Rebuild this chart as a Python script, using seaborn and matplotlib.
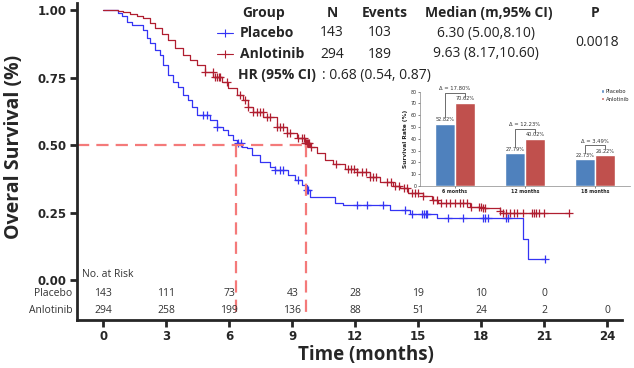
import numpy as np
import pandas as pd
import matplotlib
matplotlib.use("Agg")
import matplotlib.pyplot as plt
from matplotlib.lines import Line2D
import seaborn as sns

# Kaplan-Meier curves (time in months, survival)
placebo_t = [0, 0.71, 0.87, 1.11, 1.35, 1.9, 2.07, 2.22, 2.46, 2.7, 2.86, 3.1, 3.33, 3.57,
             3.81, 4.05, 4.2, 4.45, 5.08, 5.4, 5.71, 5.95, 6.19, 6.35, 6.59, 6.83, 7.07, 7.46,
             7.94, 8.18, 8.81, 9.13, 9.45, 9.69, 9.84, 11.03, 11.43, 13.65, 14.6, 15.88, 20.0,
             20.24, 21.03]
placebo_s = [1.0, 0.99, 0.978, 0.957, 0.944, 0.926, 0.895, 0.877, 0.852, 0.833, 0.796, 0.759,
             0.735, 0.716, 0.685, 0.667, 0.642, 0.611, 0.593, 0.568, 0.556, 0.537, 0.519, 0.506,
             0.494, 0.488, 0.463, 0.438, 0.42, 0.407, 0.389, 0.37, 0.352, 0.333, 0.309, 0.284,
             0.278, 0.259, 0.244, 0.228, 0.151, 0.078, 0.078]
anlotinib_t = [0, 0.71, 0.95, 1.27, 1.59, 1.9, 2.22, 2.46, 2.78, 3.1, 3.41, 3.81, 4.13, 4.45,
               4.84, 5.24, 5.64, 5.95, 6.35, 6.67, 6.9, 7.14, 7.62, 8.26, 8.73, 9.21, 9.6, 9.84,
               10.16, 10.56, 10.95, 11.5, 12.07, 12.7, 13.17, 13.81, 14.13, 14.52, 15.24, 15.64,
               15.95, 17.46, 18.1, 18.9, 19.05, 22.2]
anlotinib_s = [1.0, 0.997, 0.994, 0.985, 0.978, 0.969, 0.953, 0.932, 0.913, 0.889, 0.858, 0.833,
               0.815, 0.796, 0.772, 0.753, 0.735, 0.71, 0.685, 0.667, 0.642, 0.623, 0.605, 0.568,
               0.543, 0.525, 0.506, 0.494, 0.469, 0.444, 0.43, 0.41, 0.401, 0.383, 0.364, 0.348,
               0.34, 0.321, 0.311, 0.296, 0.286, 0.271, 0.265, 0.257, 0.249, 0.249]

# censored observations
placebo_cens = [4.76, 4.92, 5.4, 6.4, 6.55, 8.2, 8.4, 8.55, 9.27, 9.69, 9.75, 12.07, 12.54,
                13.33, 14.37, 14.7, 15.16, 15.25, 15.35, 15.4, 16.43, 17.14, 18.1, 18.2, 18.3,
                19.2, 19.29, 21.03]
anlotinib_cens = [4.84, 5.2, 5.3, 5.4, 5.5, 5.55, 5.9, 6.5, 6.75, 6.9, 7.14, 7.3, 7.45, 7.6, 7.8,
                  7.94, 8.26, 8.4, 8.55, 8.73, 8.9, 9.25, 9.45, 9.55, 9.6, 9.65, 9.7, 9.75, 9.8,
                  9.9, 11.1, 11.65, 11.8, 11.95, 12.07, 12.3, 12.5, 12.7, 12.85, 13.0, 13.5, 13.7,
                  13.9, 14.1, 14.3, 14.45, 14.7, 14.85, 15.0, 15.24, 15.7, 15.9, 16.1, 16.3, 16.5,
                  16.75, 17.0, 17.15, 17.3, 17.5, 17.9, 18.0, 18.1, 18.2, 18.9, 19.05, 19.2, 19.35,
                  19.55, 19.7, 20.0, 20.4, 20.5, 20.6, 20.75, 21.0, 22.2]

medians = [6.30, 9.63]

risk_times = [0, 3, 6, 9, 12, 15, 18, 21, 24]
risk_placebo = [143, 111, 73, 43, 28, 19, 10, 0, None]
risk_anlotinib = [294, 258, 199, 136, 88, 51, 24, 2, 0]

# inset bar chart
bar_months = ['6 months', '12 months', '18 months']
bar_placebo = [52.82, 27.79, 22.73]
bar_anlotinib = [70.62, 40.02, 26.22]

BLUE = '#3434f4'
RED = '#b01e30'
MED = '#f47a7a'

sns.set_style("ticks")
plt.rcParams['font.family'] = ['DejaVu Sans']

W, H = 634, 368
fig = plt.figure(figsize=(W / 100, H / 100), dpi=100)


def px(x, y):
    return x / W, 1 - y / H


ax = fig.add_axes([77.3 / W, 1 - 320 / H, (621.7 - 77.3) / W, (320 - 3.3) / H])


def surv_at(times, surv, t):
    idx = np.searchsorted(times, t, side='right') - 1
    return np.array(surv)[idx]


for t, s, cens, col in [(placebo_t, placebo_s, placebo_cens, BLUE),
                         (anlotinib_t, anlotinib_s, anlotinib_cens, RED)]:
    sns.lineplot(x=t, y=s, drawstyle='steps-post', estimator=None, sort=False,
                 color=col, lw=0.9, ax=ax)
    ax.plot(cens, surv_at(t, s, cens), linestyle='none', marker='+', color=col,
            markersize=6, mew=0.9)

# median lines
ax.plot([-1.24, medians[1]], [0.5, 0.5], color=MED, lw=1.6, ls=(0, (5.5, 3.2)))
for m in medians:
    ax.plot([m, m], [0.5, -0.148], color=MED, lw=1.6, ls=(0, (5.5, 3.2)))

ax.set_xlim(-1.24, 24.69)
ax.set_ylim(-0.148, 1.025)
ax.set_xticks(risk_times)
ax.set_yticks([0, 0.25, 0.5, 0.75, 1.0])
ax.set_yticklabels(['0.00', '0.25', '0.50', '0.75', '1.00'])
for lab in ax.get_xticklabels() + ax.get_yticklabels():
    lab.set_fontweight('bold')
    lab.set_fontsize(8.5)
ax.tick_params(axis='both', length=5, width=2, pad=3)
ax.tick_params(axis='x', pad=2.5)
for sp in ['top', 'right']:
    ax.spines[sp].set_visible(False)
for sp in ['left', 'bottom']:
    ax.spines[sp].set_linewidth(2)

ax.set_xlabel('Time (months)', fontsize=13.5, fontweight='bold', family='Open Sans')
ax.xaxis.set_label_coords(0.53, -0.079)
ax.set_ylabel('Overal Survival (%)', fontsize=14, fontweight='bold', family='Open Sans')
ax.yaxis.set_label_coords(-0.097, 0.546)

# number at risk table
ax.text(-1.02, 0.022, 'No. at Risk', fontsize=7.5, va='center', ha='left', family='Open Sans',
        color='#333333')
for lab, row, yv in [('Placebo', risk_placebo, -0.049), ('Anlotinib', risk_anlotinib, -0.111)]:
    ax.text(-1.46, yv, lab, fontsize=7.5, va='center', ha='right', family='Open Sans',
            color='#333333', clip_on=False)
    for t, n in zip(risk_times, row):
        if n is not None:
            ax.text(t, yv, str(n), fontsize=7.5, va='center', ha='center', family='Open Sans',
                    color='#333333')

# legend table
hdr = dict(fontsize=10, fontweight='bold', family='Open Sans', va='center')
txt = dict(fontsize=10, family='Open Sans', va='center', color='#222222')
fig.text(*px(264, 12.7), 'Group', ha='center', **hdr)
fig.text(*px(332, 12.7), 'N', ha='center', **hdr)
fig.text(*px(385, 12.7), 'Events', ha='center', **hdr)
fig.text(*px(489, 12.7), 'Median (m,95% CI)', ha='center', **hdr)
fig.text(*px(595, 12.7), 'P', ha='center', **hdr)
rows = [('Placebo', 143, 103, '6.30 (5.00,8.10)', 33, BLUE),
        ('Anlotinib', 294, 189, '9.63 (8.17,10.60)', 54, RED)]
for name, n, ev, med, yy, col in rows:
    fig.add_artist(Line2D([px(217, 0)[0], px(225, 0)[0], px(233, 0)[0]],
                          [px(0, yy)[1]] * 3, transform=fig.transFigure, color=col, lw=0.8,
                          marker='+', markevery=[1], markersize=6, mew=0.8))
    fig.text(*px(240, yy), name, ha='left', **hdr)
    fig.text(*px(332, yy), str(n), ha='center', **txt)
    fig.text(*px(380, yy), str(ev), ha='center', **txt)
    fig.text(*px(486, yy), med, ha='center', **txt)
fig.text(*px(597, 42), '0.0018', ha='center', **txt)
fig.text(*px(238, 75), 'HR (95% CI)', ha='left', **hdr)
fig.text(*px(322, 75), ': 0.68 (0.54, 0.87)', ha='left', **txt)

# inset bar chart
ins = fig.add_axes([420 / W, 1 - 186 / H, 210 / W, (186 - 91.7) / H])
df_bar = pd.DataFrame({
    'Time': bar_months * 2,
    'Group': ['Placebo'] * 3 + ['Anlotinib'] * 3,
    'Rate': bar_placebo + bar_anlotinib,
})
sns.barplot(data=df_bar, x='Time', y='Rate', hue='Group', width=0.57, saturation=1,
            palette={'Placebo': '#4f81bd', 'Anlotinib': '#c0504d'}, ax=ins)
for cont in ins.containers:
    ins.bar_label(cont, fmt='%.2f%%', fontsize=3.6, padding=1, color='#333333')
ins.set_ylim(0, 80)
ins.set_yticks(range(0, 81, 10))
ins.set_xlim(-0.5, 2.5)
ins.tick_params(axis='both', labelsize=3.4, length=1.5, width=0.4, pad=1)
for lab in ins.get_xticklabels():
    lab.set_fontweight('bold')
ins.set_xlabel('')
ins.set_ylabel('Survival Rate (%)', fontsize=4.2, fontweight='bold', labelpad=1.5)
for sp in ['top', 'right']:
    ins.spines[sp].set_visible(False)
for sp in ['left', 'bottom']:
    ins.spines[sp].set_linewidth(0.5)
    ins.spines[sp].set_color('#888888')
ins.patch.set_alpha(0)
leg = ins.legend(loc='upper right', bbox_to_anchor=(1.02, 1.08), fontsize=3.8, frameon=False,
                 handlelength=0.6, handleheight=0.6, handletextpad=0.3, labelspacing=0.5)

for i in range(3):
    b, r = bar_placebo[i], bar_anlotinib[i]
    xl, xr = i - 0.1425, i + 0.1425
    top = r + 8.5
    ins.plot([xl, xl, xr, xr], [b + 5.5, top, top, r + 5], color='#333333', lw=0.5,
             clip_on=False)
    ins.text(i, top + 1.2, f'\u0394 = {r - b:.2f}%', fontsize=3.8, ha='center', va='bottom',
             color='#333333', clip_on=False)

fig.savefig('out.png', dpi=100)
